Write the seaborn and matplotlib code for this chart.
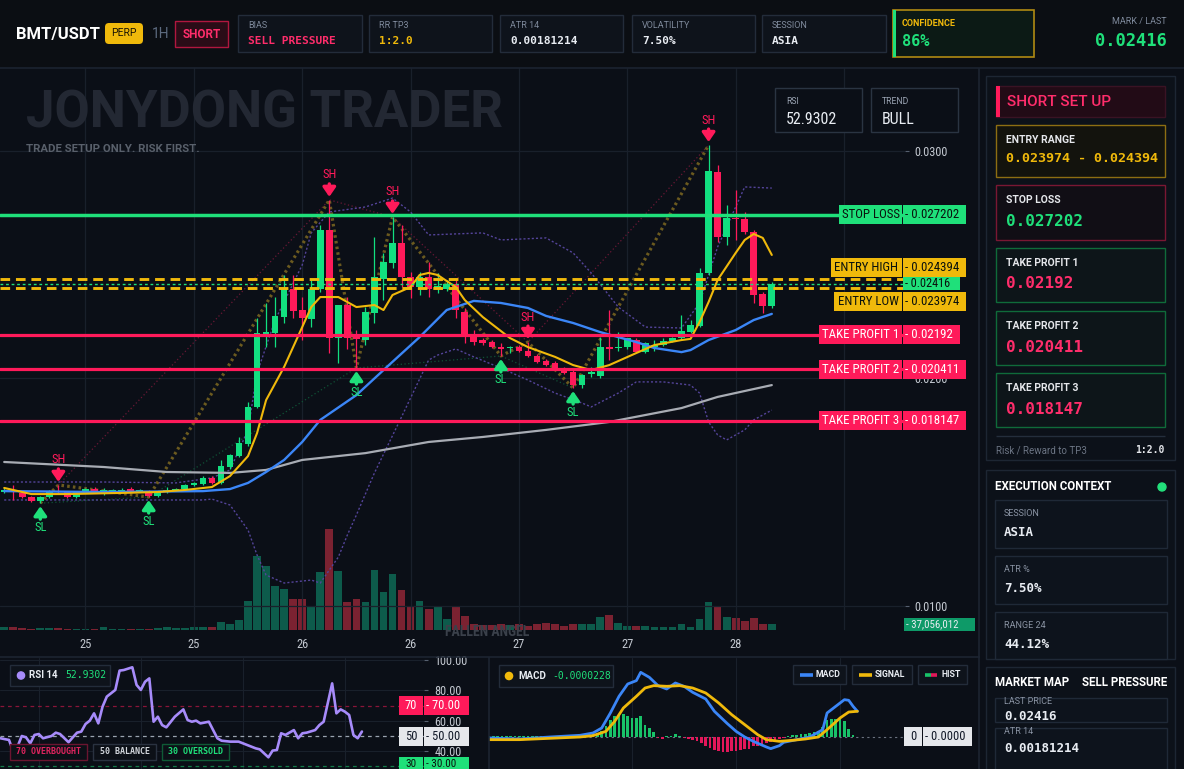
import matplotlib
matplotlib.use("Agg")
import matplotlib.pyplot as plt
import seaborn as sns
import numpy as np
from matplotlib.patches import Rectangle, FancyBboxPatch, Circle
from matplotlib import font_manager as fm

# ------------------------------------------------------------------ data
candle_open = [.01501, .01510, .01497, .01479, .01461, .01479, .01505, .01501, .01479, .01501,
               .01514, .01501, .01505, .01505, .01514, .01505, .01505, .01483, .01501, .01510,
               .01514, .01532, .01536, .01562, .01541, .01611, .01659, .01712, .01875, .02196,
               .02200, .02270, .02393, .02301, .02262, .02393, .02653, .02178, .02323, .02191,
               .02169, .02288, .02437, .02508, .02596, .02446, .02402, .02446, .02393, .02393,
               .02415, .02292, .02196, .02169, .02160, .02138, .02134, .02138, .02121, .02099,
               .02077, .02068, .02042, .02029, .01971, .02020, .02011, .02138, .02134, .02138,
               .02169, .02116, .02138, .02147, .02165, .02178, .02204, .02231, .02464, .02908,
               .02622, .02706, .02701, .02644, .02371, .02319]
candle_high = [.01519, .01532, .01503, .01483, .01483, .01510, .01532, .01505, .01505, .01519,
               .01523, .01519, .01514, .01519, .01523, .01516, .01510, .01505, .01523, .01519,
               .01536, .01545, .01571, .01571, .01642, .01668, .01743, .01897, .02266, .02330,
               .02358, .02455, .02455, .02358, .02433, .02675, .02785, .02325, .02358, .02213,
               .02314, .02622, .02552, .02710, .02675, .02468, .02468, .02512, .02464, .02433,
               .02437, .02310, .02213, .02178, .02169, .02156, .02143, .02147, .02160, .02108,
               .02086, .02077, .02050, .02046, .02020, .02050, .02182, .02301, .02204, .02160,
               .02178, .02160, .02169, .02178, .02182, .02279, .02257, .02486, .03026, .02939,
               .02763, .02829, .02732, .02653, .02380, .02424]
candle_low = [.01497, .01466, .01475, .01457, .01452, .01475, .01497, .01475, .01475, .01497,
              .01497, .01490, .01497, .01501, .01505, .01499, .01479, .01479, .01497, .01505,
              .01510, .01527, .01532, .01536, .01536, .01602, .01655, .01703, .01870, .02139,
              .02139, .02244, .02266, .02169, .02226, .02380, .02112, .02068, .02131, .02046,
              .02147, .02244, .02345, .02486, .02402, .02354, .02367, .02358, .02376, .02385,
              .02266, .02156, .02147, .02147, .02134, .02099, .02112, .02116, .02094, .02068,
              .02055, .02037, .02020, .01958, .01958, .02006, .02002, .02081, .02121, .02130,
              .02116, .02112, .02121, .02143, .02160, .02174, .02200, .02226, .02455, .02600,
              .02587, .02609, .02635, .02332, .02288, .02310]
candle_close = [.01510, .01503, .01479, .01461, .01479, .01505, .01501, .01479, .01501, .01514,
                .01501, .01508, .01510, .01512, .01507, .01510, .01483, .01501, .01510, .01514,
                .01532, .01541, .01562, .01541, .01615, .01664, .01716, .01875, .02200, .02204,
                .02275, .02393, .02297, .02266, .02393, .02653, .02178, .02323, .02178, .02174,
                .02292, .02446, .02512, .02596, .02446, .02402, .02446, .02393, .02407, .02415,
                .02301, .02196, .02160, .02156, .02138, .02130, .02138, .02121, .02099, .02072,
                .02059, .02042, .02024, .01971, .02015, .02029, .02138, .02130, .02138, .02178,
                .02116, .02156, .02147, .02165, .02178, .02209, .02235, .02464, .02912, .02622,
                .02706, .02701, .02644, .02367, .02319, .02416]
volume_m = [17, 21, 10, 6, 14, 12, 14, 8, 8, 8,
            8, 17, 8, 8, 8, 8, 8, 10, 17, 10,
            10, 17, 17, 17, 52, 37, 62, 180, 459, 397,
            273, 254, 192, 192, 149, 360, 626, 366, 174, 192,
            174, 372, 236, 347, 248, 143, 180, 128, 143, 68,
            143, 87, 37, 31, 31, 37, 29, 37, 25, 37,
            41, 37, 25, 37, 37, 37, 81, 93, 41, 25,
            25, 25, 19, 19, 17, 37, 19, 68, 174, 143,
            81, 74, 58, 74, 37, 37]

ema_fast_idx = [0, 3, 7, 13, 17, 20, 23, 25, 27, 28, 29, 31, 33, 34, 35, 37, 39, 41, 42, 43,
                45, 46, 47, 48, 50, 51, 53, 56, 58, 61, 63, 65, 67, 70, 72, 75, 76, 77, 78, 79,
                81, 82, 83, 84, 85]
ema_fast = [.01519, .01492, .01492, .01497, .01501, .01510, .01523, .01571, .01659, .01760,
            .01905, .02051, .02226, .02314, .02358, .02358, .02314, .02323, .02301, .02367,
            .02402, .02455, .02464, .02455, .02402, .02345, .02270, .02178, .02138, .02095,
            .02059, .02037, .02059, .02112, .02147, .02169, .02174, .02248, .02336, .02433,
            .02552, .02609, .02635, .02618, .02543]
ema_slow_idx = [0, 11, 22, 25, 27, 29, 31, 33, 35, 39, 42, 46, 49, 52, 55, 58, 60, 63, 66, 70,
                72, 75, 76, 78, 81, 83, 85]
ema_slow = [.01505, .01501, .01505, .01514, .01541, .01589, .01642, .01721, .01818, .01927,
            .02037, .02182, .02301, .02341, .02332, .02310, .02275, .02244, .02204, .02160,
            .02134, .02116, .02125, .02169, .02213, .02257, .02284]
ema_long_idx = [0, 11, 18, 25, 29, 33, 40, 47, 53, 60, 67, 75, 79, 85]
ema_long = [.01633, .01611, .01589, .01585, .01598, .01642, .01672, .01721, .01743, .01774,
            .01809, .01870, .01919, .01971]
band_up_idx = [0, 11, 19, 23, 25, 27, 28, 30, 33, 34, 36, 40, 43, 45, 47, 53, 55, 60, 63, 65,
               68, 71, 75, 77, 79, 82, 85]
band_up = [.01545, .01545, .01541, .01563, .01598, .01774, .02024, .02257, .02499, .02640,
           .02732, .02754, .02793, .02732, .02631, .02640, .02609, .02618, .02552, .02464,
           .02314, .02226, .02222, .02332, .02578, .02842, .02837]
band_lo_idx = [0, 22, 23, 25, 27, 28, 29, 31, 34, 35, 37, 38, 39, 41, 44, 47, 48, 50, 52, 55,
               58, 61, 64, 65, 68, 70, 73, 76, 77, 78, 79, 80, 82, 83, 85]
band_lo = [.01466, .01466, .01470, .01444, .01334, .01224, .01136, .01101, .01114, .01101,
           .01215, .01312, .01400, .01585, .01831, .02081, .02103, .02130, .02095, .02046,
           .01993, .01936, .01892, .01875, .01936, .01985, .01985, .01971, .01936, .01809,
           .01752, .01730, .01774, .01818, .01861]
swing_high_idx = [6, 36, 43, 58, 78]
swing_low_idx = [4, 16, 39, 55, 63]

stop_loss = 0.027202
entry_high = 0.024394
entry_low = 0.023974
last_price = 0.02416
tp1, tp2, tp3 = 0.02192, 0.020411, 0.018147

price_ticks = [0.01, 0.02, 0.03]
time_ticks = [9, 21, 33, 45, 57, 69, 81, 93]
time_labels = ["25", "25", "26", "26", "27", "27", "28", ""]

rsi_idx = [0, 2, 3, 4, 5, 6, 7, 8, 9, 10, 12, 13, 14, 16, 17, 18, 19, 20, 21, 22,
           23, 24, 25, 27, 28, 29, 31, 32, 33, 34, 35, 36, 37, 38, 39, 41, 43, 44, 45, 46,
           47, 49, 51, 52, 54, 56, 58, 60, 61, 63, 64, 65, 66, 67, 69, 70, 71, 72, 74, 75,
           76, 78, 79, 80, 81, 82, 83, 84, 85]
rsi_val = [48.5, 47.4, 39.7, 43.0, 50.0, 49.1, 45.2, 50.7, 51.3, 48.5,
           50.0, 52.2, 51.3, 45.9, 49.1, 52.2, 52.9, 57.9, 60.1, 64.9,
           58.3, 69.3, 75.9, 80.3, 93.0, 93.4, 95.2, 83.6, 80.3, 85.7,
           87.9, 59.4, 62.7, 57.2, 55.7, 62.7, 67.5, 60.5, 59.4, 60.1,
           58.3, 59.4, 48.5, 46.9, 46.3, 46.3, 44.1, 41.9, 41.2, 36.0,
           40.4, 40.8, 51.8, 50.7, 53.9, 48.5, 51.8, 52.2, 53.9, 57.2,
           59.4, 84.6, 64.9, 67.5, 66.0, 63.8, 50.7, 48.5, 52.93]
rsi_ticks = [40, 60, 80, 100]

# MACD values in units of 1e-6
macd_idx = [0, 7, 14, 21, 24, 26, 28, 30, 32, 34, 35, 37, 39, 41, 43, 45, 47, 50, 52, 55,
            57, 59, 61, 64, 65, 67, 68, 71, 74, 77, 78, 80, 82, 83, 84, 85]
macd_val = [-22, -45, 0, 38, 90, 202, 540, 915, 1192, 1268, 1455, 1342, 1155, 1080, 1215, 1140,
            1005, 855, 578, 300, 128, 0, -98, -225, -262, -195, -120, -60, 0, 165, 540, 690,
            840, 825, 690, 578]
signal_idx = [0, 7, 14, 21, 24, 27, 29, 31, 34, 36, 38, 41, 44, 47, 50, 53, 56, 59, 62, 64,
              67, 70, 73, 76, 78, 81, 83, 85]
signal_val = [-60, -60, -30, 0, 30, 128, 352, 652, 915, 1102, 1155, 1140, 1155, 1102, 990, 765,
              502, 278, 52, -60, -98, -75, -45, 0, 165, 428, 562, 578]
hist_val = [22, 15, 22, 22, 15, 22, 22, 22, 15, 22, 22, 22, 22, 15, 22,
            30, 30, 30, 30, 30, 30, 38, 45, 60, 75,
            90, 128, 240, 390, 465, 502, 525, 480, 428, 428,
            465, 278, 202, 105, -22, -45, 30, 30, 75, 30,
            -22, -45, -60, -98, -135, -210, -248, -285, -322, -345,
            -345, -322, -322, -285, -270, -270, -210, -195, -172, -135,
            -120, -75, -45, -22, 30, 45, 52, 75, 75, 90,
            105, 128, 225, 390, 405, 405, 428, 352, 180, 52, -8]

# ------------------------------------------------------------------ style
BG = '#0b0f17'
HEADER_BG = '#0b0e13'
PANEL_BG = '#0c1119'
PANEL_EC = '#1d2633'
CARD_BG = '#0e131b'
CARD_EC = '#232c3a'
GRID = '#19202b'
GREEN = '#12df80'
GREEN_L = '#1fe07a'
RED = '#ff1a5a'
PINK = '#ff2d6b'
YELLOW = '#f0b90b'
BLUE = '#3b86f7'
GREY_MA = '#a8acb4'
BAND = '#54449a'
ZIG = '#6b5a1f'
VOL_G = '#0d5b4b'
VOL_R = '#7b2231'
TXT = '#e8ecf2'
MUTED = '#7f8a9c'
DARK_T = '#0a120d'
AXT = '#c3c8d0'

sns.set_theme(style="dark", rc={"axes.facecolor": BG, "figure.facecolor": BG,
                                "axes.edgecolor": BG, "text.color": TXT})
names = {f.name for f in fm.fontManager.ttflist}


def pick(cands, default):
    for cnd in cands:
        if cnd in names:
            return cnd
    return default


COND = pick(['Roboto Condensed', 'Liberation Sans Narrow', 'Open Sans Condensed'], 'DejaVu Sans')
SANS = pick(['Roboto', 'Inter', 'Lato', 'Open Sans'], 'DejaVu Sans')
MONO = 'DejaVu Sans Mono'
CS = 1.0 if COND != 'DejaVu Sans' else 0.85
plt.rcParams['font.family'] = [SANS, 'DejaVu Sans']

W, H = 1184, 769
fig = plt.figure(figsize=(W / 100, H / 100), dpi=100)
fig.patch.set_facecolor(BG)


def rect(x0, y0, x1, y1):
    return [x0 / W, 1 - y1 / H, (x1 - x0) / W, (y1 - y0) / H]


MAIN = (0, 68, 905, 630)
ax_v = fig.add_axes(rect(*MAIN))
ax = fig.add_axes(rect(*MAIN))
ax_r = fig.add_axes(rect(0, 658, 424, 769))
ax_m = fig.add_axes(rect(489, 658, 922, 769))
ov = fig.add_axes([0, 0, 1, 1])
ax_v.set_zorder(1)
ax.set_zorder(2)
ax.set_facecolor('none')
ov.set_zorder(20)
ov.set_xlim(0, W)
ov.set_ylim(H, 0)
ov.axis('off')

for a in (ax_v, ax, ax_r, ax_m):
    for s in a.spines.values():
        s.set_visible(False)

XL = (-0.465, 99.75)
YL = (0.008945, 0.033648)

# ------------------------------------------------------------------ volume
o = np.array(candle_open)
c = np.array(candle_close)
n = len(o)
idx = np.arange(n)
up = c >= o
ax_v.bar(idx, volume_m, width=0.86, color=np.where(up, VOL_G, VOL_R), linewidth=0)
ax_v.set_xlim(*XL)
ax_v.set_ylim(0, 3484)
ax_v.axis('off')

# ------------------------------------------------------------------ main chart
ax.set_axisbelow(True)
ax.grid(True, color=GRID, linewidth=0.9)
col = np.where(up, GREEN, RED)
ax.vlines(idx, candle_low, candle_high, colors=col, linewidth=0.9, zorder=3)
ax.bar(idx, np.maximum(np.abs(c - o), 0.00005), bottom=np.minimum(o, c), width=0.74,
       color=col, linewidth=0, zorder=3.1)

ax.plot(band_up_idx, band_up, color=BAND, linewidth=1.0, linestyle=(0, (1.5, 1.5)), zorder=2.5)
ax.plot(band_lo_idx, band_lo, color=BAND, linewidth=1.0, linestyle=(0, (1.5, 1.5)), zorder=2.5)

sw = sorted([(i, candle_high[i]) for i in swing_high_idx] + [(i, candle_low[i]) for i in swing_low_idx])
ax.plot([p[0] for p in sw], [p[1] for p in sw], color=ZIG, linewidth=2.3,
        linestyle=(0, (0.8, 1.0)), zorder=2.6)
ax.plot(swing_high_idx, [candle_high[i] for i in swing_high_idx], color='#6a1835',
        linewidth=0.9, linestyle=(0, (1, 2)), zorder=2.4)
ax.plot(swing_low_idx, [candle_low[i] for i in swing_low_idx], color='#0f5236',
        linewidth=0.9, linestyle=(0, (1, 2)), zorder=2.4)

sns.lineplot(x=ema_long_idx, y=ema_long, ax=ax, color=GREY_MA, linewidth=1.6, zorder=4)
sns.lineplot(x=ema_slow_idx, y=ema_slow, ax=ax, color=BLUE, linewidth=1.7, zorder=4.1)
sns.lineplot(x=ema_fast_idx, y=ema_fast, ax=ax, color=YELLOW, linewidth=1.5, zorder=4.2)

ax.axhline(stop_loss, color=GREEN_L, linewidth=2.5, zorder=5)
for lv in (tp1, tp2, tp3):
    ax.axhline(lv, color=RED, linewidth=2.3, zorder=5)
for lv in (entry_high, entry_low):
    ax.axhline(lv, color=YELLOW, linewidth=2.1, dashes=(3.3, 2.0), zorder=5)
ax.axhline(last_price, color=GREEN_L, linewidth=1.0, linestyle=(0, (2, 2)), zorder=5)

ARW = '-|>,head_length=0.55,head_width=0.38'
for i in swing_high_idx:
    hi = candle_high[i]
    ax.annotate('', xy=(i, hi), xytext=(0, 16), textcoords='offset pixels',
                arrowprops=dict(arrowstyle=ARW, color=RED, lw=2.4, shrinkA=0, shrinkB=2.2,
                                mutation_scale=10), zorder=7)
    ax.annotate('SH', xy=(i, hi), xytext=(0, 25), textcoords='offset pixels', ha='center',
                va='center', color=RED, fontsize=9 * CS, family=COND, zorder=7)
for i in swing_low_idx:
    lo = candle_low[i]
    ax.annotate('', xy=(i, lo), xytext=(0, -16), textcoords='offset pixels',
                arrowprops=dict(arrowstyle=ARW, color=GREEN_L, lw=2.4, shrinkA=0, shrinkB=2.2,
                                mutation_scale=10), zorder=7)
    ax.annotate('SL', xy=(i, lo), xytext=(0, -24), textcoords='offset pixels', ha='center',
                va='center', color=GREEN_L, fontsize=9 * CS, family=COND, zorder=7)

ax.text(26, 113, 'JONYDONG TRADER', transform=ov.transData, fontsize=36.8, family=SANS,
        fontweight='bold', color='#232833', va='center', ha='left', zorder=0.8, clip_on=False)
ax.text(26, 149, 'TRADE SETUP ONLY. RISK FIRST.', transform=ov.transData, fontsize=8.2,
        family=SANS, fontweight='bold', color='#59606b', va='center', ha='left', zorder=0.8,
        clip_on=False)

ax.set_xlim(*XL)
ax.set_ylim(*YL)
ax.set_xlabel('')
ax.set_ylabel('')
ax.set_xticks(time_ticks)
ax.set_xticklabels(time_labels, fontsize=9 * CS, family=COND, color=AXT)
ax.set_yticks(price_ticks)
ax.set_yticklabels([f"{v:.4f}" for v in price_ticks], fontsize=8.8 * CS, family=COND, color=AXT)
ax.yaxis.tick_right()
ax.tick_params(axis='x', length=0, pad=6)
ax.tick_params(axis='y', length=3, width=0.8, color='#566070', pad=4)

# ------------------------------------------------------------------ RSI panel
sns.lineplot(x=rsi_idx, y=rsi_val, ax=ax_r, color='#a78bfa', linewidth=1.9, zorder=4)
ax_r.axhline(70, color='#8a1538', linewidth=0.9, linestyle=(0, (3, 3)))
ax_r.axhline(50, color='#9aa3af', linewidth=0.9, linestyle=(0, (3, 3)))
ax_r.axhline(30, color='#137a48', linewidth=0.9, linestyle=(0, (3, 3)))
ax_r.set_xlim(-0.12, 99.6)
ax_r.set_ylim(28.3, 101.3)
ax_r.set_xlabel('')
ax_r.set_ylabel('')
ax_r.set_xticks([9, 33, 57, 81])
ax_r.set_xticklabels([])
ax_r.set_yticks(rsi_ticks)
ax_r.set_yticklabels([f"{v:.2f}" for v in rsi_ticks], fontsize=8.8 * CS, family=COND, color=AXT)
ax_r.yaxis.tick_right()
ax_r.tick_params(axis='x', length=0)
ax_r.tick_params(axis='y', length=3, width=0.8, color='#566070', pad=4.5)
ax_r.grid(True, color=GRID, linewidth=0.8)
ax_r.set_axisbelow(True)

# ------------------------------------------------------------------ MACD panel
ax_m.bar(np.arange(len(hist_val)), hist_val, width=0.62,
         color=np.where(np.array(hist_val) >= 0, '#18c268', '#e3175a'), linewidth=0, zorder=3)
ax_m.axhline(0, color='#6b7280', linewidth=0.8, linestyle=(0, (2, 3)), zorder=2)
sns.lineplot(x=macd_idx, y=macd_val, ax=ax_m, color=BLUE, linewidth=2.0, zorder=4)
sns.lineplot(x=signal_idx, y=signal_val, ax=ax_m, color=YELLOW, linewidth=2.0, zorder=4.1)
ax_m.set_xlim(0, 99.9)
ax_m.set_ylim(-720, 1777)
ax_m.set_xlabel('')
ax_m.set_ylabel('')
ax_m.set_xticks([33, 57, 81])
ax_m.set_xticklabels([])
ax_m.set_yticks([])
ax_m.tick_params(length=0)
ax_m.grid(True, axis='x', color=GRID, linewidth=0.8)
ax_m.set_axisbelow(True)


# ------------------------------------------------------------------ overlay helpers
def yo(axis, v):
    d = axis.transData.transform((0, v))
    return ov.transData.inverted().transform(d)[1]


def box(x0, y0, x1, y1, fc, ec='none', lw=1.0, z=2):
    ov.add_patch(Rectangle((x0, y0), x1 - x0, y1 - y0, facecolor=fc, edgecolor=ec,
                           linewidth=lw, zorder=z))


def txt(x, y, s, size, color, weight='normal', family=None, ha='left', va='center', z=5):
    ov.text(x, y, s, fontsize=size, color=color, fontweight=weight,
            family=family if family else SANS, ha=ha, va=va, zorder=z)


def hline(x0, x1, y, color, lw=1.0, z=3):
    ov.plot([x0, x1], [y, y], color=color, linewidth=lw, zorder=z, solid_capstyle='butt')


def vline(x, y0, y1, color, lw=1.0, z=3):
    ov.plot([x, x], [y0, y1], color=color, linewidth=lw, zorder=z, solid_capstyle='butt')


# price level tags
levels = [("STOP LOSS", stop_loss, 839, 966, GREEN_L, DARK_T, 0),
          ("ENTRY HIGH", entry_high, 831, 966, YELLOW, DARK_T, -11),
          ("ENTRY LOW", entry_low, 834, 966, YELLOW, DARK_T, 13),
          ("TAKE PROFIT 1", tp1, 819, 960, RED, 'white', 0),
          ("TAKE PROFIT 2", tp2, 819, 966, RED, 'white', 0),
          ("TAKE PROFIT 3", tp3, 819, 966, RED, 'white', 0)]
for name, v, x0, x1, fc, tc, dy in levels:
    yc = yo(ax, v) + dy
    box(x0, yc - 9.5, 902, yc + 9.5, fc, z=6)
    box(903, yc - 9.5, x1, yc + 9.5, fc, z=6)
    txt((x0 + 902) / 2, yc, name, 9.3 * CS, tc, family=COND, ha='center', z=7)
    txt(905, yc, "- " + f"{v:.6f}".rstrip('0'), 9.3 * CS, tc, family=COND, z=7)
yl = yo(ax, last_price)
box(903, yl - 6.5, 960, yl + 6.5, GREEN_L, z=6.5)
txt(905, yl, "- " + f"{last_price:.6f}".rstrip('0'), 8.8 * CS, DARK_T, family=COND, z=7)

# volume tag
box(904, 618, 975, 630.5, '#0e9a68', z=6)
txt(906, 624.5, "- 37,056,012", 7.8 * CS, TXT, family=COND, z=7)
txt(487, 632, "FALLEN ANGEL", 10 * CS, '#3a404a', weight='bold', family=COND, ha='center', z=1)

# RSI / TREND boxes
for x0, lab, val in ((775, 'RSI', '52.9302'), (871, 'TREND', 'BULL')):
    box(x0, 88, x0 + 87, 132, BG, '#2a3442', 1.0, z=6)
    txt(x0 + 11, 102, lab, 6.2, '#9aa3b2', z=7)
    txt(x0 + 11, 119, val, 11.5 * CS, TXT, family=COND, z=7)

# RSI level tags
for v, fc, tc in ((70, RED, 'white'), (50, '#e5e7eb', '#111827'), (30, GREEN_L, DARK_T)):
    yc = yo(ax_r, v)
    box(399, yc - 9.5, 423, yc + 9.5, fc, z=6)
    box(424, yc - 9.5, 469, yc + 9.5, fc, z=6)
    ty = min(yc, 764.0)
    sz = 9 * CS if v != 30 else 8 * CS
    txt(411, ty, str(v), sz, tc, family=COND, ha='center', z=7)
    txt(426, ty, f"- {v:.2f}", sz, tc, family=COND, z=7)

# RSI legend & badges
box(10, 665, 110, 686, CARD_BG, CARD_EC, z=6)
ov.add_patch(Circle((21, 675.5), 3.6, color='#a78bfa', zorder=7))
txt(29, 675.5, 'RSI 14', 7, TXT, 'bold', z=7)
txt(65, 675.5, '52.9302', 7, GREEN_L, family=MONO, z=7)
for x0, x1, s, ec, tc in ((10, 87, '70 OVERBOUGHT', '#6b1530', '#e0245e'),
                          (93, 156, '50 BALANCE', '#2a3240', '#d1d5db'),
                          (162, 229, '30 OVERSOLD', '#0f5b36', GREEN_L)):
    box(x0, 744, x1, 760, '#0c1017', ec, z=6)
    txt((x0 + x1) / 2, 752, s, 6.0, tc, 'bold', family=MONO, ha='center', z=7)

# MACD legend
box(499, 665, 613, 687, CARD_BG, CARD_EC, z=6)
ov.add_patch(Circle((509, 676), 3.6, color=YELLOW, zorder=7))
txt(518, 676, 'MACD', 7, TXT, 'bold', z=7)
txt(552, 676, '-0.0000228', 7, GREEN_L, family=MONO, z=7)
for x0, x1, s, cl in ((793, 846, 'MACD', BLUE), (852, 912, 'SIGNAL', YELLOW), (918, 967, 'HIST', None)):
    box(x0, 665, x1, 684, CARD_BG, CARD_EC, z=6)
    if cl:
        hline(x0 + 7, x0 + 20, 674.5, cl, lw=2.6, z=7)
    else:
        hline(x0 + 7, x0 + 13, 674.5, '#18c268', lw=2.6, z=7)
        hline(x0 + 13, x0 + 19, 674.5, '#e3175a', lw=2.6, z=7)
    txt(x0 + 23, 674.5, s, 6.3, TXT, 'bold', z=7)
y0m = yo(ax_m, 0)
box(904, y0m - 9.5, 922, y0m + 9.5, '#e5e7eb', z=6)
box(923, y0m - 9.5, 972, y0m + 9.5, '#e5e7eb', z=6)
txt(913, y0m, '0', 9 * CS, '#111827', family=COND, ha='center', z=7)
txt(925, y0m, '- 0.0000', 9 * CS, '#111827', family=COND, z=7)

# separators
hline(0, 980, 656.5, '#1c2431', 1.2)
vline(489, 657, 769, '#1c2431', 1.2)
vline(979, 68, 769, '#1c2431', 1.2)

# ------------------------------------------------------------------ header
box(0, 0, W, 67, HEADER_BG, z=1)
hline(0, W, 67.5, '#1b2330', 1.2)
txt(16, 34, 'BMT/USDT', 12, 'white', 'bold')
ov.add_patch(FancyBboxPatch((105, 23), 38, 21, boxstyle='round,pad=0,rounding_size=4',
                            facecolor=YELLOW, edgecolor='none', zorder=3))
txt(124, 33.5, 'PERP', 7.5, '#1a1405', ha='center')
txt(152, 34, '1H', 10, '#5d6b80')
box(175, 21, 228, 47, '#2a0c17', '#b0173f', 1.0)
txt(201.5, 34, 'SHORT', 8.5, PINK, 'bold', ha='center')
for x0, x1, lab, val, cl in ((238, 362, 'BIAS', 'SELL PRESSURE', PINK),
                             (369, 492, 'RR TP3', '1:2.0', YELLOW),
                             (500, 623, 'ATR 14', '0.00181214', TXT),
                             (632, 755, 'VOLATILITY', '7.50%', TXT),
                             (762, 886, 'SESSION', 'ASIA', TXT)):
    box(x0, 15, x1, 52, CARD_BG, CARD_EC, 1.0)
    txt(x0 + 10, 26, lab, 6.5, MUTED)
    txt(x0 + 10, 41, val, 8, cl, 'bold', family=MONO)
box(893, 10, 1034, 57, '#0c1a15', '#b08a12', 1.2)
box(893, 10, 896, 57, GREEN_L, z=3)
txt(902, 23, 'CONFIDENCE', 6.5, YELLOW, 'bold')
txt(902, 41, '86%', 11, GREEN_L, 'bold', family=MONO)
txt(1167, 22, 'MARK / LAST', 6.5, MUTED, ha='right')
txt(1167, 41, '0.02416', 12.3, GREEN_L, 'bold', family=MONO, ha='right')

# ------------------------------------------------------------------ sidebar
box(986, 76, 1175, 460, PANEL_BG, PANEL_EC, 1.0)
box(996, 86, 1165, 117, '#220b16', '#3a1324', 1.0, z=3)
box(996, 86, 999.5, 117, RED, z=4)
txt(1007, 101.5, 'SHORT SET UP', 11, PINK, 'medium')
box(996, 125, 1165, 177, '#13130d', '#8d6e12', 1.0, z=3)
txt(1006, 140, 'ENTRY RANGE', 7.5, '#e5e7eb', 'bold')
txt(1006, 159, f"{entry_low:.6f} - {entry_high:.6f}", 9.6, YELLOW, 'bold', family=MONO)
cards = [(185, 240, 'STOP LOSS', stop_loss, GREEN_L, '#7a1733', '#110e15'),
         (248, 302, 'TAKE PROFIT 1', tp1, PINK, '#0f6b3a', '#0d1519'),
         (311, 365, 'TAKE PROFIT 2', tp2, PINK, '#0f6b3a', '#0d1519'),
         (373, 427, 'TAKE PROFIT 3', tp3, PINK, '#0f6b3a', '#0d1519')]
for y0, y1, lab, v, cl, ec, fc in cards:
    box(996, y0, 1165, y1, fc, ec, 1.0, z=3)
    txt(1006, y0 + 15, lab, 7.5, '#e5e7eb', 'bold')
    txt(1006, y0 + 36, f"{v:.6f}".rstrip('0'), 11.5, cl, 'bold', family=MONO)
hline(996, 1165, 436, '#242e3c', 1.0)
txt(996, 450, 'Risk / Reward to TP3', 7, '#6b7483')
txt(1165, 450, '1:2.0', 7, '#e5e7eb', 'bold', family=MONO, ha='right')

box(986, 470, 1175, 659, PANEL_BG, PANEL_EC, 1.0)
txt(995, 486, 'EXECUTION CONTEXT', 8.3, 'white', 'bold')
ov.add_patch(Circle((1162, 487), 4, color='#22e07b', zorder=5))
for y0, y1, lab, val in ((500, 548, 'SESSION', 'ASIA'), (556, 604, 'ATR %', '7.50%'),
                         (612, 659, 'RANGE 24', '44.12%')):
    box(995, y0, 1167, y1, '#0d131c', '#1f2937', 1.0, z=3)
    txt(1004, y0 + 14, lab, 6.5, '#8a93a3')
    txt(1004, y0 + 32, val, 9, TXT, 'bold', family=MONO)

box(986, 667, 1175, 775, PANEL_BG, PANEL_EC, 1.0)
txt(995, 683, 'MARKET MAP', 8.3, 'white', 'bold')
txt(1167, 683, 'SELL PRESSURE', 8.3, 'white', 'bold', ha='right')
box(995, 698, 1167, 722, '#0d131c', '#1f2937', 1.0, z=3)
txt(1004, 701, 'LAST PRICE', 6.5, '#8a93a3')
txt(1004, 716, '0.02416', 9, TXT, 'bold', family=MONO)
box(995, 728, 1167, 775, '#0d131c', '#1f2937', 1.0, z=3)
txt(1004, 731, 'ATR 14', 6.5, '#8a93a3')
txt(1004, 748, '0.00181214', 9, TXT, 'bold', family=MONO)

fig.savefig('out.png', dpi=100, facecolor=BG)
